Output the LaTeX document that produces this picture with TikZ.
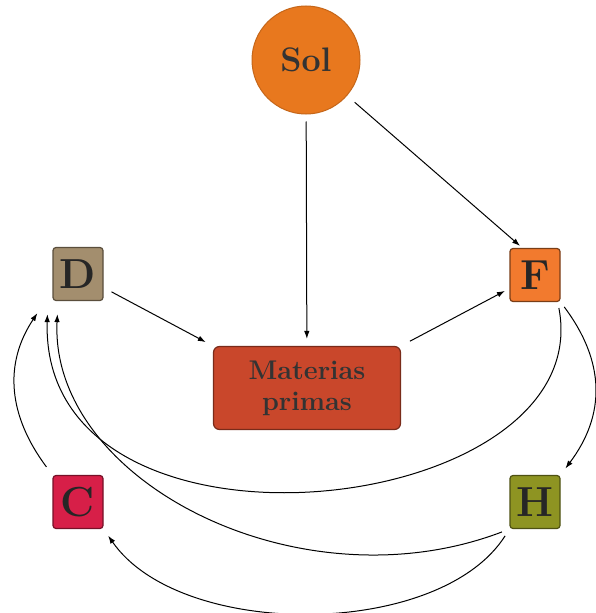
\documentclass[tikz,border=0pt]{standalone}
\usepackage{fontspec}
\usetikzlibrary{arrows.meta}
\definecolor{solfill}{HTML}{E8781E}
\definecolor{matfill}{HTML}{C9472B}
\definecolor{dfill}{HTML}{A38E6E}
\definecolor{ffill}{HTML}{F27A2E}
\definecolor{cfill}{HTML}{D71F48}
\definecolor{hfill}{HTML}{8E9422}
\tikzstyle{box}=[draw, line width=1.2pt, rounded corners=3pt, minimum width=50pt, minimum height=53pt, inner sep=0pt, text=black!85, font=\fontsize{42}{42}\selectfont\bfseries]
\tikzstyle{sun}=[circle, draw=solfill!85!black, fill=solfill, minimum size=108pt, inner sep=0pt, text=black!80, font=\fontsize{34}{40}\selectfont\bfseries]
\tikzstyle{raw}=[draw=matfill!60!black, line width=1.2pt, fill=matfill, rounded corners=6pt, minimum width=187pt, minimum height=83pt, align=center, text=black!80, font=\fontsize{27}{31}\selectfont\bfseries]

\begin{document}
\begin{tikzpicture}[x=1pt, y=-1pt, line width=1pt, >={Latex[length=8pt,width=5.5pt]}]
\useasboundingbox (0,0) rectangle (595,613);
% Sun and raw materials
    \node[sun] (sol) at (306,60) {Sol};
    \node[raw] (mat) at (307,388) {Materias\\primas};
% Boxes
    \node[box, fill=dfill, draw=dfill!55!black] (d) at (78,274) {D};
    \node[box, fill=ffill, draw=ffill!50!black] (f) at (535,275) {F};
    \node[box, fill=cfill, draw=cfill!55!black] (c) at (78,502) {C};
    \node[box, fill=hfill, draw=hfill!55!black] (h) at (535,502) {H};
% Straight arrows
    \draw[->, shorten <=7pt, shorten >=7pt] (sol) -- (mat);
    \draw[->, shorten <=10pt, shorten >=3pt] (sol) -- (f.115);
    \draw[->, shorten <=9pt, shorten >=8pt] (d) -- (mat.north west);
    \draw[->, shorten <=10pt, shorten >=5pt] (mat.north east) -- (f);
% Curved arrows
    \draw[->, shorten <=6pt] (f.-50) .. controls +(42,218) and +(-8,267) .. ([shift={(-5,13)}]d.south west);
    \draw[->, shorten <=6pt, shorten >=8pt] (f.south east) .. controls +(45,60) and +(45,-60) .. (h.north east);
    \draw[->, shorten <=8pt] (h.south west) .. controls +(-210,80) and +(-8,167) .. ([shift={(5,13)}]d.south west);
    \draw[->, shorten <=8pt, shorten >=8pt] (h.south west) .. controls +(-70,110) and +(77,111) .. (c.south east);
    \draw[->, shorten <=10pt] (c.north west) .. controls +(-44,-59) and +(-34,51) .. ([shift={(-15,12)}]d.south west);
\end{tikzpicture}
\end{document}
